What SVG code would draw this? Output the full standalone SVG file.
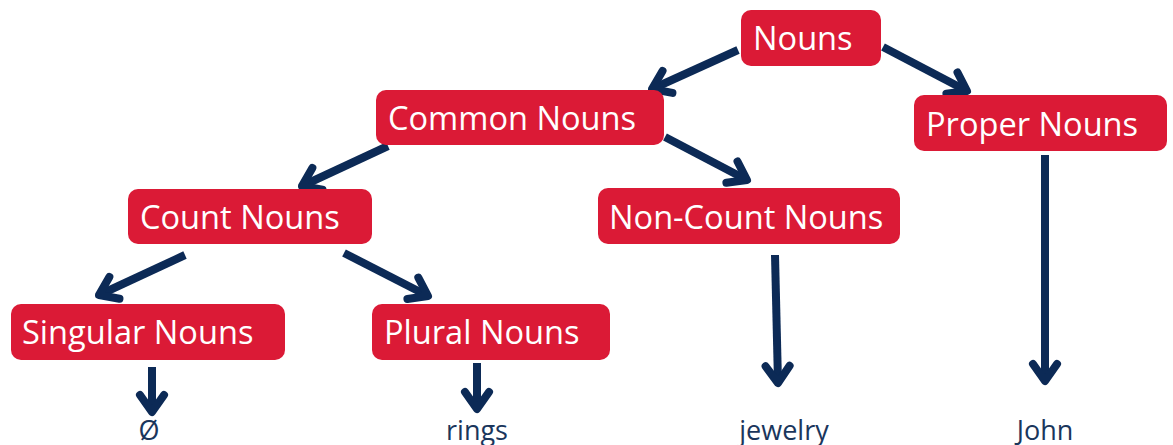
<svg xmlns="http://www.w3.org/2000/svg" width="1173" height="445" viewBox="0 0 1173 445">
  <defs>
    <marker id="chev" markerUnits="userSpaceOnUse" markerWidth="40" markerHeight="40" viewBox="-25 -20 40 40" refX="0" refY="0" orient="auto">
      <path d="M -17,-12 L 0,0 L -17,12" fill="none" stroke="#0c2a56" stroke-width="8" stroke-linecap="round" stroke-linejoin="round"/>
    </marker>
  </defs>
  <style>
    .box { fill: #db1a36; }
    .lbl { font-family: "Open Sans", "Noto Sans", "Liberation Sans", sans-serif; font-size: 32.6px; fill: #ffffff; }
    .leaf { font-family: "Open Sans", "Noto Sans", "Liberation Sans", sans-serif; font-size: 27px; fill: #1a365c; text-anchor: middle; }
    .arr { fill: none; stroke: #0c2a56; stroke-width: 8; stroke-linecap: butt; marker-end: url(#chev); }
  </style>
  <rect width="1173" height="445" fill="#ffffff"/>

  <g id="connectors">
    <line class="arr" x1="738" y1="50" x2="652" y2="89"/>
    <line class="arr" x1="883" y1="47" x2="967" y2="91"/>
    <line class="arr" x1="665" y1="137" x2="747" y2="180"/>
    <line class="arr" x1="388" y1="146" x2="302" y2="186"/>
    <line class="arr" x1="185" y1="255" x2="99" y2="295"/>
    <line class="arr" x1="344" y1="253" x2="428" y2="296"/>
    <line class="arr" x1="152" y1="367" x2="152" y2="412"/>
    <line class="arr" x1="477" y1="363" x2="477" y2="409"/>
    <line class="arr" x1="775" y1="255" x2="778" y2="383"/>
    <line class="arr" x1="1045" y1="155" x2="1045" y2="381"/>
  </g>

  <g id="nouns">
    <rect class="box" x="741" y="10" width="140" height="56" rx="10"/>
    <text class="lbl" x="753" y="50">Nouns</text>
  </g>
  <g id="common-nouns">
    <rect class="box" x="376" y="90" width="288" height="55" rx="10"/>
    <text class="lbl" x="388" y="130">Common Nouns</text>
  </g>
  <g id="proper-nouns">
    <rect class="box" x="914" y="95" width="253" height="56" rx="10"/>
    <text class="lbl" x="926" y="136">Proper Nouns</text>
  </g>
  <g id="count-nouns">
    <rect class="box" x="128" y="189" width="244" height="55" rx="10"/>
    <text class="lbl" x="140" y="229">Count Nouns</text>
  </g>
  <g id="non-count-nouns">
    <rect class="box" x="598" y="188" width="302" height="56" rx="10"/>
    <text class="lbl" x="609" y="229">Non-Count Nouns</text>
  </g>
  <g id="singular-nouns">
    <rect class="box" x="11" y="304" width="274" height="56" rx="10"/>
    <text class="lbl" x="22" y="344">Singular Nouns</text>
  </g>
  <g id="plural-nouns">
    <rect class="box" x="372" y="304" width="238" height="56" rx="10"/>
    <text class="lbl" x="384" y="344">Plural Nouns</text>
  </g>

  <g id="leaf-empty"><text class="leaf" x="149" y="440">Ø</text></g>
  <g id="leaf-rings"><text class="leaf" x="477" y="440">rings</text></g>
  <g id="leaf-jewelry"><text class="leaf" x="784" y="440">jewelry</text></g>
  <g id="leaf-john"><text class="leaf" x="1045" y="440">John</text></g>
</svg>
